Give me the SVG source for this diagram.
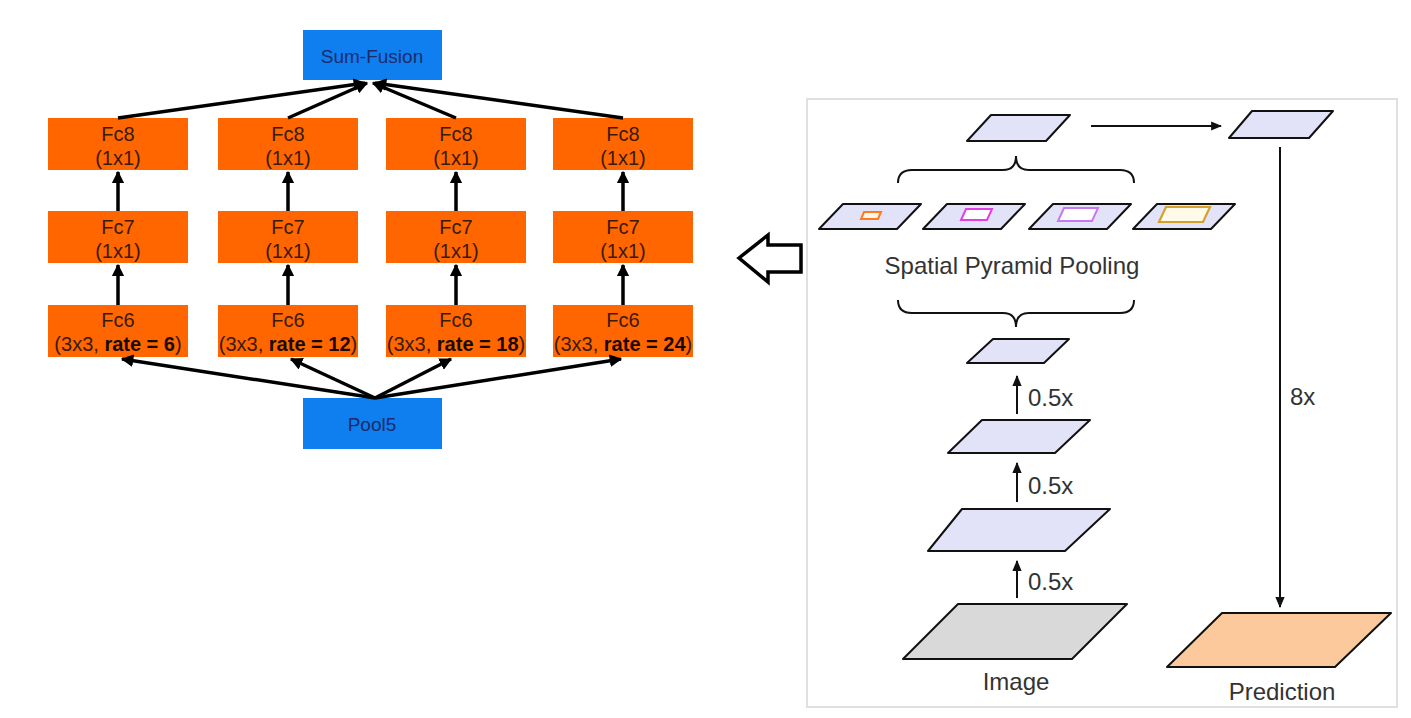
<svg xmlns="http://www.w3.org/2000/svg" width="1411" height="718" viewBox="0 0 1411 718">
<defs>
<style>
.blue{fill:#0f7ff0}
.or{fill:#ff6600}
.bt{font-family:"Liberation Sans",Arial,sans-serif;font-size:19px;fill:#1b2c6b;text-anchor:middle;dominant-baseline:central}
.ot{font-family:"Liberation Sans",Arial,sans-serif;font-size:20px;fill:#3b1a08;text-anchor:middle;dominant-baseline:central}
.b{font-weight:bold;fill:#1a0a02}
.la{stroke:#000;stroke-width:3.5;fill:none}
.pl{fill:#e2e2f8;stroke:#111;stroke-width:2;stroke-linejoin:round}
.rt{font-family:"Liberation Sans",Arial,sans-serif;font-size:24px;fill:#333}
.ra{stroke:#111;stroke-width:2;fill:none}
.br{stroke:#111;stroke-width:2;fill:none}
</style>
<marker id="ah" viewBox="0 0 10 10" refX="9" refY="5" markerWidth="3.6" markerHeight="3.6" orient="auto" markerUnits="strokeWidth">
<path d="M0,0 L10,5 L0,10 z" fill="#000"/>
</marker>
<marker id="ah2" viewBox="0 0 10 10" refX="9" refY="5" markerWidth="5.5" markerHeight="5.5" orient="auto" markerUnits="strokeWidth">
<path d="M0,0.8 L10,5 L0,9.2 z" fill="#111"/>
</marker>
</defs>
<rect width="1411" height="718" fill="#fff"/>

<!-- Left panel -->
<g id="sum-fusion"><rect class="blue" x="303" y="30" width="139" height="50"/><text class="bt" x="372" y="56">Sum-Fusion</text></g>
<g id="pool5"><rect class="blue" x="303" y="398" width="139" height="51"/><text class="bt" x="372" y="424">Pool5</text></g>

<g id="fc8-1"><rect class="or" x="48" y="118" width="140" height="52"/><text class="ot" x="118" y="134">Fc8</text><text class="ot" x="118" y="158">(1x1)</text></g>
<g id="fc8-2"><rect class="or" x="218" y="118" width="140" height="52"/><text class="ot" x="288" y="134">Fc8</text><text class="ot" x="288" y="158">(1x1)</text></g>
<g id="fc8-3"><rect class="or" x="386" y="118" width="140" height="52"/><text class="ot" x="456" y="134">Fc8</text><text class="ot" x="456" y="158">(1x1)</text></g>
<g id="fc8-4"><rect class="or" x="553" y="118" width="140" height="52"/><text class="ot" x="623" y="134">Fc8</text><text class="ot" x="623" y="158">(1x1)</text></g>

<g id="fc7-1"><rect class="or" x="48" y="211" width="140" height="52"/><text class="ot" x="118" y="227">Fc7</text><text class="ot" x="118" y="251">(1x1)</text></g>
<g id="fc7-2"><rect class="or" x="218" y="211" width="140" height="52"/><text class="ot" x="288" y="227">Fc7</text><text class="ot" x="288" y="251">(1x1)</text></g>
<g id="fc7-3"><rect class="or" x="386" y="211" width="140" height="52"/><text class="ot" x="456" y="227">Fc7</text><text class="ot" x="456" y="251">(1x1)</text></g>
<g id="fc7-4"><rect class="or" x="553" y="211" width="140" height="52"/><text class="ot" x="623" y="227">Fc7</text><text class="ot" x="623" y="251">(1x1)</text></g>

<g id="fc6-1"><rect class="or" x="48" y="305" width="140" height="52"/><text class="ot" x="118" y="320">Fc6</text><text class="ot" x="118" y="344">(3x3, <tspan class="b">rate = 6</tspan>)</text></g>
<g id="fc6-2"><rect class="or" x="218" y="305" width="140" height="52"/><text class="ot" x="288" y="320">Fc6</text><text class="ot" x="288" y="344">(3x3, <tspan class="b">rate = 12</tspan>)</text></g>
<g id="fc6-3"><rect class="or" x="386" y="305" width="140" height="52"/><text class="ot" x="456" y="320">Fc6</text><text class="ot" x="456" y="344">(3x3, <tspan class="b">rate = 18</tspan>)</text></g>
<g id="fc6-4"><rect class="or" x="553" y="305" width="140" height="52"/><text class="ot" x="623" y="320">Fc6</text><text class="ot" x="623" y="344">(3x3, <tspan class="b">rate = 24</tspan>)</text></g>

<g id="left-connectors">
<line class="la" x1="118" y1="118" x2="365" y2="83" marker-end="url(#ah)"/>
<line class="la" x1="288" y1="118" x2="367" y2="83" marker-end="url(#ah)"/>
<line class="la" x1="456" y1="118" x2="373" y2="83" marker-end="url(#ah)"/>
<line class="la" x1="623" y1="118" x2="375" y2="83" marker-end="url(#ah)"/>
<line class="la" x1="118" y1="211" x2="118" y2="172" marker-end="url(#ah)"/>
<line class="la" x1="288" y1="211" x2="288" y2="172" marker-end="url(#ah)"/>
<line class="la" x1="456" y1="211" x2="456" y2="172" marker-end="url(#ah)"/>
<line class="la" x1="623" y1="211" x2="623" y2="172" marker-end="url(#ah)"/>
<line class="la" x1="118" y1="305" x2="118" y2="265" marker-end="url(#ah)"/>
<line class="la" x1="288" y1="305" x2="288" y2="265" marker-end="url(#ah)"/>
<line class="la" x1="456" y1="305" x2="456" y2="265" marker-end="url(#ah)"/>
<line class="la" x1="623" y1="305" x2="623" y2="265" marker-end="url(#ah)"/>
<line class="la" x1="375" y1="398" x2="122" y2="359" marker-end="url(#ah)"/>
<line class="la" x1="375" y1="398" x2="291" y2="359" marker-end="url(#ah)"/>
<line class="la" x1="375" y1="398" x2="451" y2="359" marker-end="url(#ah)"/>
<line class="la" x1="375" y1="398" x2="621" y2="359" marker-end="url(#ah)"/>
</g>

<!-- hollow arrow -->
<g id="hollow-arrow"><polygon points="739,258 768,235 768,245 801,245 801,272 768,272 768,282" fill="#fff" stroke="#000" stroke-width="3.5" stroke-linejoin="miter"/></g>

<!-- Right panel -->
<g id="frame"><rect x="807" y="99" width="590" height="608" fill="none" stroke="#e0e0e0" stroke-width="2"/></g>

<g id="spp-out"><polygon class="pl" points="991,115 1070,115 1046,141 967,141"/></g>
<g id="up-out"><polygon class="pl" points="1252,111 1333,111 1309,138 1229,138"/></g>

<g id="spp-1"><polygon class="pl" points="843,204 921,204 897,229 819,229"/><polygon points="864,212 881,212 878,219 861,219" fill="#fff5ea" stroke="#ff7a1a" stroke-width="2"/></g>
<g id="spp-2"><polygon class="pl" points="947,204 1025,204 1001,229 923,229"/><polygon points="966,209 992,209 987,220 961,220" fill="#fff" stroke="#e040e8" stroke-width="2"/></g>
<g id="spp-3"><polygon class="pl" points="1053,204 1131,204 1107,229 1029,229"/><polygon points="1064,208 1098,208 1092,221 1058,221" fill="#fff" stroke="#c878f0" stroke-width="2"/></g>
<g id="spp-4"><polygon class="pl" points="1157,204 1235,204 1211,229 1133,229"/><polygon points="1166,207 1210,207 1203,222 1159,222" fill="#fffbe8" stroke="#d4a22a" stroke-width="2.2"/></g>

<g id="spp-label"><text class="rt" x="1012" y="274" text-anchor="middle" font-size="25.5">Spatial Pyramid Pooling</text></g>

<g id="braces">
<path class="br" d="M898,183 Q898,170 912,170 L1003,170 Q1016,170 1016,156 Q1016,170 1029,170 L1120,170 Q1134,170 1134,183"/>
<path class="br" d="M898,300 Q898,313 912,313 L1003,313 Q1016,313 1016,327 Q1016,313 1029,313 L1120,313 Q1134,313 1134,300"/>
</g>

<g id="feat-3"><polygon class="pl" points="993,339 1069,339 1044,363 967,363"/></g>
<g id="feat-2"><polygon class="pl" points="982,420 1090,420 1055,453 948,453"/></g>
<g id="feat-1"><polygon class="pl" points="962,509 1110,509 1065,551 928,551"/></g>
<g id="image"><polygon points="958,604 1127,604 1072,659 903,659" fill="#d9d9d9" stroke="#111" stroke-width="2" stroke-linejoin="round"/><text class="rt" x="1016" y="690" text-anchor="middle">Image</text></g>
<g id="prediction"><polygon points="1222,613 1391,613 1335,667 1167,667" fill="#fcc99c" stroke="#111" stroke-width="2" stroke-linejoin="round"/><text class="rt" x="1282" y="700" text-anchor="middle">Prediction</text></g>

<g id="right-connectors">
<line class="ra" x1="1017" y1="414" x2="1017" y2="376" marker-end="url(#ah2)"/>
<line class="ra" x1="1017" y1="502" x2="1017" y2="463" marker-end="url(#ah2)"/>
<line class="ra" x1="1017" y1="598" x2="1017" y2="561" marker-end="url(#ah2)"/>
<line class="ra" x1="1091" y1="126" x2="1221" y2="126" marker-end="url(#ah2)"/>
<line class="ra" x1="1280" y1="147" x2="1280" y2="607" marker-end="url(#ah2)"/>
</g>
<g id="labels">
<text class="rt" x="1028" y="406">0.5x</text>
<text class="rt" x="1028" y="494">0.5x</text>
<text class="rt" x="1028" y="590">0.5x</text>
<text class="rt" x="1290" y="405">8x</text>
</g>
</svg>
